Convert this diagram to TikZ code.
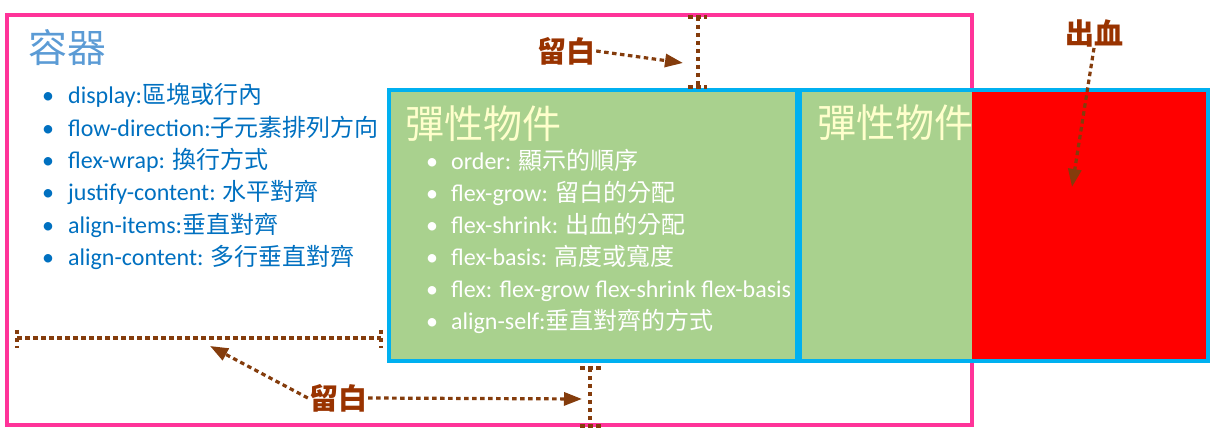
\documentclass[tikz,border=0pt]{standalone}
\usepackage{fontspec}
\setmainfont{Carlito}
\newfontfamily\cjk{Noto Sans CJK TC}
\newcommand{\zh}[1]{{\cjk #1}}
\usetikzlibrary{arrows.meta}
\definecolor{boxpink}{RGB}{255,51,153}
\definecolor{itemblue}{RGB}{0,176,240}
\definecolor{itemgreen}{RGB}{169,209,142}
\definecolor{bleedred}{RGB}{255,0,0}
\definecolor{gapbrown}{RGB}{132,60,12}
\definecolor{labelbrown}{RGB}{153,51,0}
\definecolor{titleblue}{RGB}{91,155,213}
\definecolor{listblue}{RGB}{0,112,192}
\definecolor{titlecream}{RGB}{255,255,204}

\begin{document}
\begin{tikzpicture}[x=1pt, y=-1pt,
    title/.style={anchor=west, inner sep=0pt, font=\fontsize{39}{44}\selectfont\cjk},
    entry/.style={anchor=west, inner sep=0pt, text height=19pt, text depth=5pt, font=\fontsize{24}{28}\selectfont},
    gaplabel/.style={inner sep=1pt, text=labelbrown, font=\fontsize{29}{32}\selectfont\cjk\bfseries},
    gapline/.style={gapbrown, line width=3.2pt, dash pattern=on 4.5pt off 3.5pt},
    gaparrow/.style={gapline, -{Triangle[length=18pt,width=13pt]}}
]
\useasboundingbox (0,0) rectangle (1216,435);

% Container
\draw[boxpink, line width=4pt] (7,15) rectangle (972,425);
\node[title, text=titleblue] (ctitle) at (28,48) {容器};
\foreach \txt [count=\i] in {
    {display:\zh{區塊或行內}},
    {flow-direction:\zh{子元素排列方向}},
    {flex-wrap: \zh{換行方式}},
    {justify-content: \zh{水平對齊}},
    {align-items:\zh{垂直對齊}},
    {align-content: \zh{多行垂直對齊}}}
  \node[entry, text=listblue] (c\i) at (42, {97+32.3*(\i-1)}) {\makebox[26pt][l]{•}\txt};

% Flex item 1
\filldraw[fill=itemgreen, draw=itemblue, line width=4pt] (389,90) rectangle (797,361);
\node[title, text=titlecream] (ititle) at (405,124) {彈性物件};
\foreach \txt [count=\i] in {
    {order: \zh{顯示的順序}},
    {flex-grow: \zh{留白的分配}},
    {flex-shrink: \zh{出血的分配}},
    {flex-basis: \zh{高度或寬度}},
    {flex: flex-grow flex-shrink flex-basis},
    {align-self:\zh{垂直對齊的方式}}}
  \node[entry, text=white] (i\i) at (426, {163+32*(\i-1)}) {\makebox[25pt][l]{•}\txt};

% Flex item 2, overflowing the container
\fill[itemgreen] (800,90) rectangle (1208,361);
\node[title, text=titlecream] (jtitle) at (817,123) {彈性物件};
\fill[bleedred] (972,92) rectangle (1208,361);
\draw[itemblue, line width=4pt] (800,90) rectangle (1208,361);

% Gap markers
\draw[gapline] (698,17) -- (698,87);
\draw[gapline] (688,17) -- (707,17);
\draw[gapline] (688,87) -- (707,87);
\draw[gapline] (17,338) -- (381,338);
\draw[gapline] (17,330) -- (17,348);
\draw[gapline] (381,330) -- (381,348);
\draw[gapline] (590,368) -- (590,426);
\draw[gapline] (580,368) -- (601,368);
\draw[gapline] (580,426) -- (601,426);

\coordinate (topgap) at (683,63);
\coordinate (leftgap) at (210,346);
\coordinate (bottomgap) at (582,399);
\coordinate (bleedpt) at (1072,187);

% Labels
\node[gaplabel] (gaptop) at (566,51) {留白};
\node[gaplabel] (gapbottom) at (338,398) {留白};
\node[gaplabel] (bleed) at (1094,33) {出血};

\draw[gaparrow] (gaptop.east) -- (topgap);
\draw[gaparrow] (gapbottom.west) -- (leftgap);
\draw[gaparrow] (gapbottom.east) -- (bottomgap);
\draw[gaparrow] (bleed.south) -- (bleedpt);

\end{tikzpicture}
\end{document}
